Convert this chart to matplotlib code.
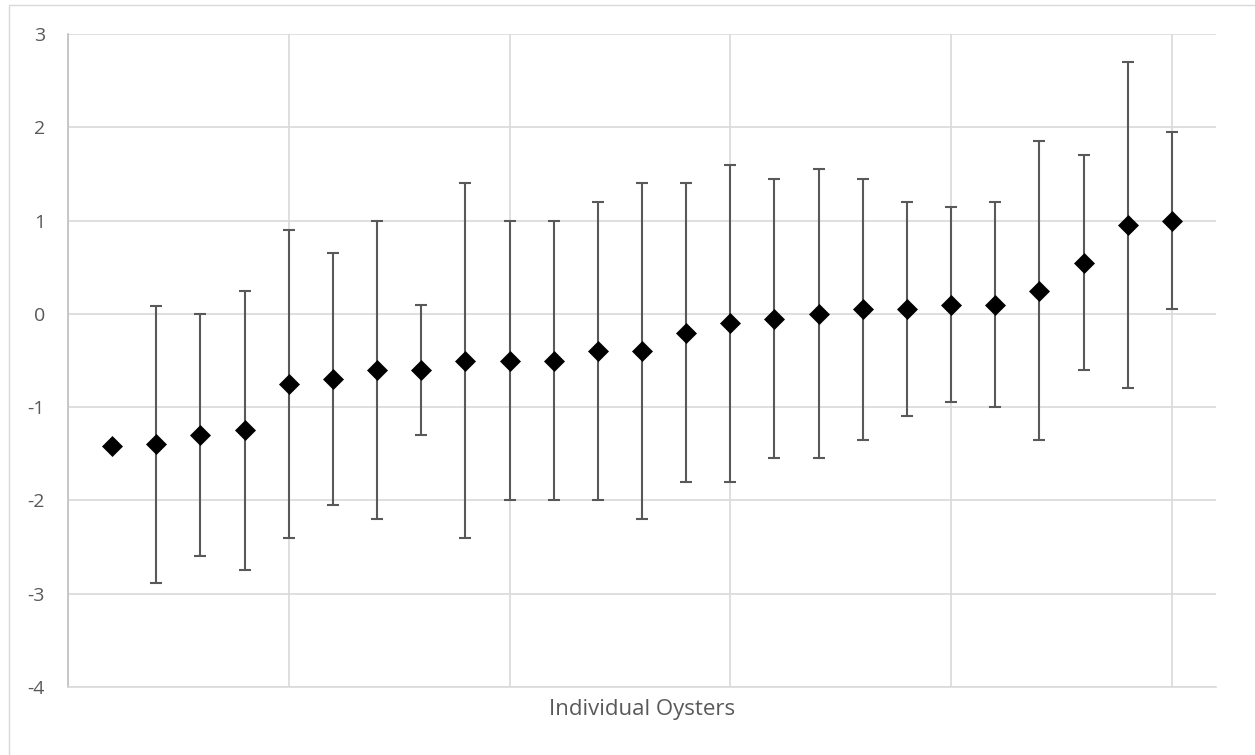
import numpy as np
import matplotlib
matplotlib.use("Agg")
import matplotlib.pyplot as plt
from matplotlib.patches import Rectangle

plt.rcParams['font.family'] = ['Open Sans', 'DejaVu Sans']
plt.rcParams['axes.unicode_minus'] = False

# one point per oyster, sorted by mean
oyster = list(range(1, 26))
mean = [-1.42, -1.40, -1.30, -1.25, -0.75, -0.70, -0.60, -0.60, -0.50, -0.50,
        -0.50, -0.40, -0.40, -0.20, -0.10, -0.05, 0.00, 0.05, 0.05, 0.10,
        0.10, 0.25, 0.55, 0.95, 1.00]
upper = [np.nan, 0.08, 0.00, 0.25, 0.90, 0.65, 1.00, 0.10, 1.40, 1.00,
         1.00, 1.20, 1.40, 1.40, 1.60, 1.45, 1.55, 1.45, 1.20, 1.15,
         1.20, 1.85, 1.70, 2.70, 1.95]
lower = [np.nan, -2.88, -2.60, -2.75, -2.40, -2.05, -2.20, -1.30, -2.40, -2.00,
         -2.00, -2.00, -2.20, -1.80, -1.80, -1.55, -1.55, -1.35, -1.10, -0.95,
         -1.00, -1.35, -0.60, -0.80, 0.05]

x = np.array(oyster)
y = np.array(mean)
yerr = [y - np.array(lower), np.array(upper) - y]

fig = plt.figure(figsize=(12.55, 7.55), dpi=100)
ax = fig.add_axes([68/1255, 1 - 687/755, (1216 - 68)/1255, (687 - 34)/755])

grey = '#595959'
ax.errorbar(x, y, yerr=yerr, fmt='none', ecolor=grey, elinewidth=1.5,
            capsize=4, capthick=1.5, zorder=3)
ax.plot(x, y, 'D', color='black', markersize=10.5, markeredgewidth=0.5, zorder=4)

ax.set_xlim(0, 26)
ax.set_ylim(-4, 3)
ax.set_xticks([0, 5, 10, 15, 20, 25])
ax.set_xticklabels([])
ax.set_yticks(range(-4, 4))
ax.tick_params(length=0, labelsize=14, labelcolor=grey)
ax.tick_params(axis='y', pad=16.5)
ax.tick_params(axis='x', pad=0)
ax.grid(True, color='#d9d9d9', linewidth=1.2, zorder=0)
ax.set_axisbelow(True)
for s in ['top', 'right']:
    ax.spines[s].set_visible(False)
ax.spines['left'].set_color('#bfbfbf')
ax.spines['left'].set_linewidth(1.2)
ax.spines['bottom'].set_color('#d9d9d9')
ax.spines['bottom'].set_linewidth(1.2)

ax.set_xlabel('Individual Oysters', fontsize=16, color=grey, labelpad=9)

# chart area border (right/bottom edges fall outside the image)
fig.patches.append(Rectangle((9/1255, -0.1), 1.2, 1.1 - 5/755, transform=fig.transFigure,
                             fill=False, edgecolor='#d9d9d9', linewidth=1))

fig.savefig('out.png', dpi=100)
